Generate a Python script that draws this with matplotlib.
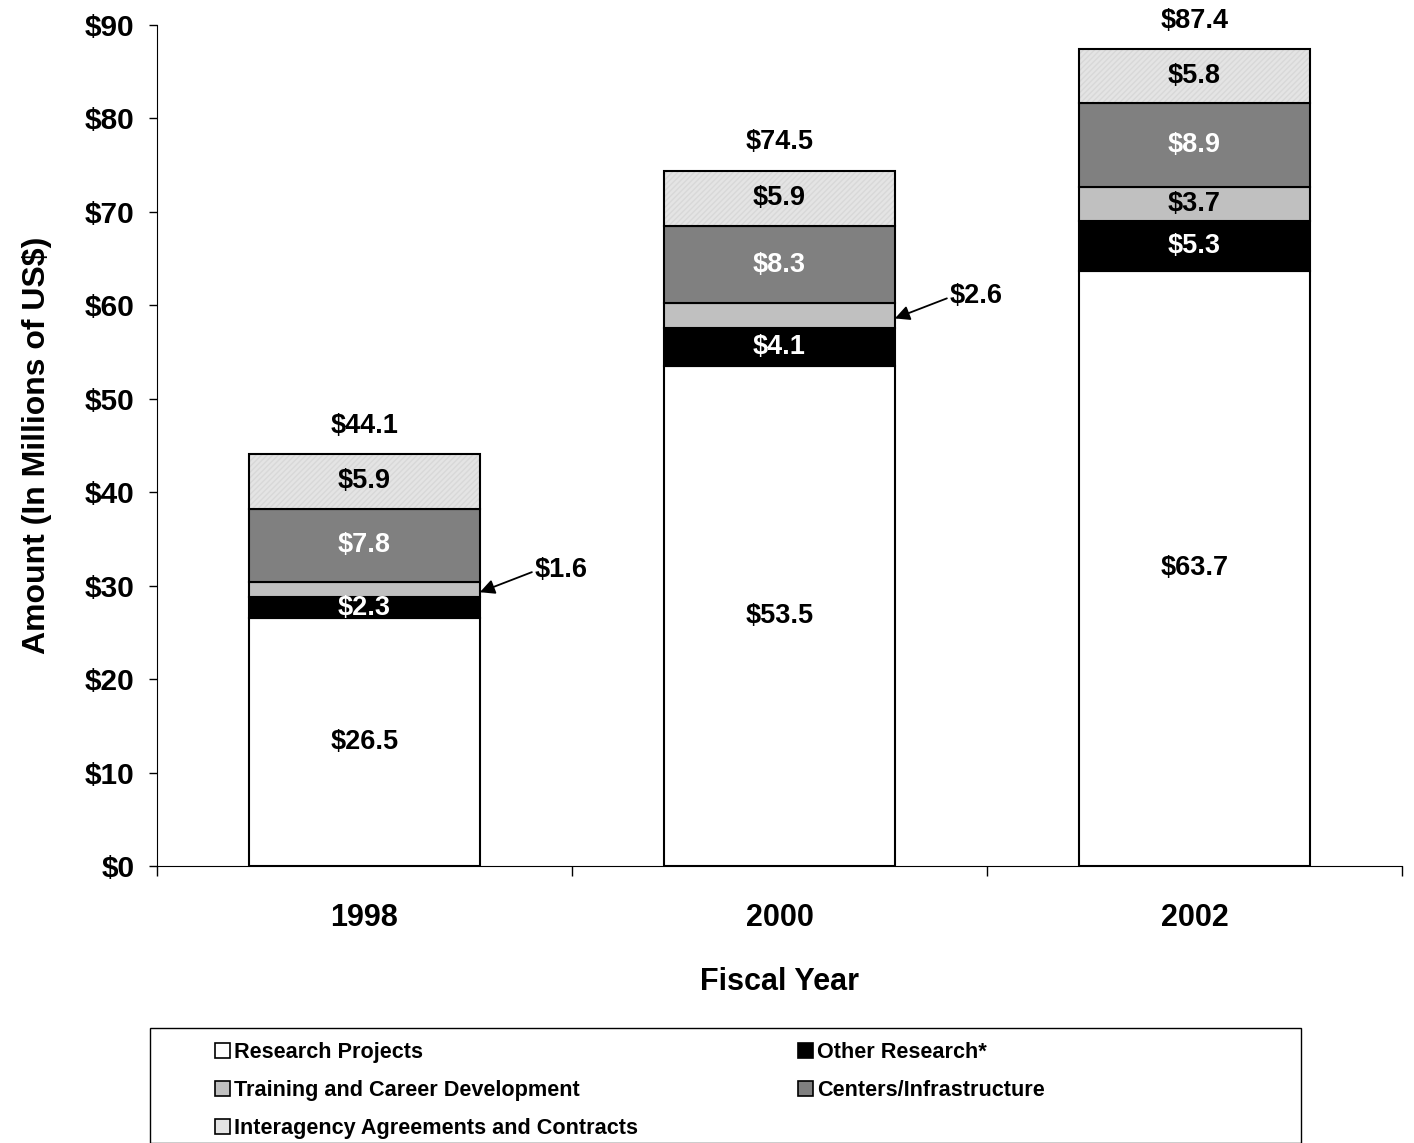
import numpy as np
import matplotlib.pyplot as plt
from matplotlib.patches import Patch, Rectangle

plt.rcParams['font.family'] = ['Liberation Sans', 'DejaVu Sans']
plt.rcParams['font.weight'] = 'bold'
plt.rcParams['text.parse_math'] = False

years = ['1998', '2000', '2002']
research = [26.5, 53.5, 63.7]
other = [2.3, 4.1, 5.3]
training = [1.6, 2.6, 3.7]
centers = [7.8, 8.3, 8.9]
interagency = [5.9, 5.9, 5.8]
totals = [44.1, 74.5, 87.4]

series = [
    ('Research Projects', research, 'white', 'black'),
    ('Other Research*', other, 'black', 'white'),
    ('Training and Career Development', training, '#c0c0c0', 'black'),
    ('Centers/Infrastructure', centers, '#808080', 'white'),
    ('Interagency Agreements and Contracts', interagency, '#e4e4e4', 'black'),
]

fig = plt.figure(figsize=(14.14, 11.43), dpi=100)
ax = fig.add_axes([157 / 1414, 1 - 866 / 1143, 1245 / 1414, 841 / 1143])

x = np.arange(len(years))
width = 0.556
bottom = np.zeros(len(years))
handles = []
for name, vals, color, tcolor in series:
    vals = np.array(vals)
    if name.startswith('Interagency'):
        ax.bar(x, vals, width, bottom=bottom, color=color, edgecolor='#d8d8d8',
               hatch='//////', linewidth=0, zorder=2)
        ax.bar(x, vals, width, bottom=bottom, fill=False, edgecolor='black',
               linewidth=1.5, zorder=3)
    else:
        ax.bar(x, vals, width, bottom=bottom, color=color, edgecolor='black',
               linewidth=1.5, zorder=2)
    for i, v in enumerate(vals):
        # small training segments get an arrow label instead
        if name.startswith('Training') and v < 3:
            continue
        ax.text(x[i], bottom[i] + v / 2, f'${v:.1f}', ha='center', va='center',
                fontsize=19.5, color=tcolor, fontweight='bold', zorder=4)
    handles.append(Patch(facecolor=color, edgecolor='black', linewidth=1.2, label=name))
    bottom += vals

# training callouts
tr_mid = np.array(research) + np.array(other) + np.array(training) / 2
for i in [0, 1]:
    ax.annotate(f'${training[i]:.1f}', xy=(x[i] + width / 2, tr_mid[i] - 0.3),
                xytext=(x[i] + 0.41, tr_mid[i] + 2.1), fontsize=19.5,
                fontweight='bold', va='center', ha='left',
                arrowprops=dict(arrowstyle='-|>', color='black', lw=1.3,
                                mutation_scale=22, shrinkA=0, shrinkB=0,
                                relpos=(0.0, 0.45)))

for i, t in enumerate(totals):
    ax.text(x[i], t + 3.0, f'${t:.1f}', ha='center', va='center', fontsize=19.5,
            fontweight='bold')

ax.set_xlim(-0.5, 2.5)
ax.set_ylim(0, 90)
ax.set_yticks(np.arange(0, 91, 10))
ax.set_yticklabels([f'${v}' for v in range(0, 91, 10)], fontsize=21.5, fontweight='bold')
ax.set_xticks(x)
ax.set_xticklabels(years, fontsize=22, fontweight='bold')
ax.set_xticks([-0.5, 0.5, 1.5, 2.5], minor=True)
ax.tick_params(axis='x', which='major', length=0, pad=27)
ax.tick_params(axis='x', which='minor', length=7, width=1, direction='out')
ax.tick_params(axis='y', length=6, width=1, pad=10)
ax.spines['top'].set_visible(False)
ax.spines['right'].set_visible(False)
ax.set_xlabel('Fiscal Year', fontsize=22, fontweight='bold', labelpad=24)
ax.set_ylabel('Amount (In Millions of US$)', fontsize=23, fontweight='bold', labelpad=24)

# legend: row-major order like the original
order = [0, 2, 4, 1, 3]
fig.patches.append(Rectangle((150 / 1414, 0), 1151 / 1414, (1143 - 1028) / 1143,
                             transform=fig.transFigure, facecolor='white',
                             edgecolor='black', linewidth=1.0))
fig.legend([handles[k] for k in order], [handles[k].get_label() for k in order],
           loc='upper left', bbox_to_anchor=(215 / 1414, 1 - 1042 / 1143), ncol=2,
           frameon=False, fontsize=15.6, handlelength=0.7, handleheight=0.7,
           handletextpad=0.2, labelspacing=0.78, columnspacing=7.35,
           borderpad=0, borderaxespad=0)

fig.savefig('out.png', dpi=100)
